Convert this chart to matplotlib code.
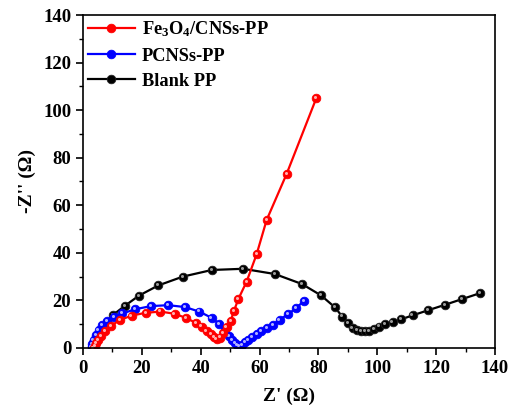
import numpy as np
import matplotlib.pyplot as plt
from matplotlib.ticker import MultipleLocator
from matplotlib.transforms import ScaledTranslation

plt.rcParams['font.family'] = ['Liberation Serif', 'DejaVu Serif']
plt.rcParams['font.weight'] = 'bold'
plt.rcParams['mathtext.fontset'] = 'custom'
plt.rcParams['mathtext.rm'] = 'Liberation Serif:bold'
plt.rcParams['mathtext.bf'] = 'Liberation Serif:bold'
plt.rcParams['mathtext.it'] = 'Liberation Serif:bold'

# Fe3O4/CNSs-PP
fe_x = [3.6, 4.0, 4.5, 5.2, 6.2, 7.5, 9.5, 12.6, 16.5, 21.3, 26.3, 31.1, 35.1, 38.4,
        40.3, 42.0, 43.4, 44.5, 45.4, 46.6, 47.7, 48.8, 50.2, 51.3, 52.8, 55.6, 59.0,
        62.4, 69.2, 79.3]
fe_y = [0.0, 0.8, 2.0, 3.3, 5.0, 7.0, 9.3, 11.8, 13.6, 14.8, 15.3, 14.4, 12.6, 10.5,
        9.0, 7.3, 5.7, 4.5, 3.9, 4.4, 6.2, 8.7, 11.5, 15.6, 20.6, 27.9, 39.4,
        53.8, 73.2, 105.1]

# PCNSs-PP
pc_x = [2.9, 3.2, 3.6, 4.3, 5.3, 6.6, 8.3, 10.5, 13.3, 17.8, 23.0, 29.0, 34.7, 39.5,
        43.7, 46.3, 48.2, 49.6, 50.7, 51.7, 52.5, 53.2, 54.0, 55.0, 56.2, 57.5, 59.0,
        60.6, 62.5, 64.5, 66.8, 69.6, 72.5, 75.1]
pc_y = [0.5, 1.8, 3.4, 5.3, 7.5, 9.5, 11.5, 13.0, 14.5, 16.3, 17.6, 18.0, 17.2, 15.3,
        12.7, 10.1, 7.4, 5.0, 3.4, 2.0, 1.1, 0.9, 1.4, 2.4, 3.5, 4.7, 5.9,
        7.0, 8.3, 9.8, 11.8, 14.2, 16.8, 19.9]

# Blank PP
bl_x = [3.0, 3.5, 4.5, 6.0, 8.0, 10.3, 14.2, 19.0, 25.6, 33.9, 43.8, 54.4, 65.2, 74.4,
        80.9, 85.6, 88.1, 90.2, 91.6, 93.0, 94.4, 95.8, 97.2, 99.0, 100.7, 102.5,
        105.2, 108.2, 112.0, 117.1, 123.1, 128.9, 134.8]
bl_y = [0.5, 2.0, 4.5, 7.5, 10.8, 14.0, 17.7, 22.0, 26.3, 30.0, 32.8, 33.3, 31.1, 26.9,
        22.1, 17.1, 13.2, 10.4, 8.5, 7.6, 7.0, 7.0, 7.3, 8.1, 9.0, 10.1,
        10.9, 12.1, 13.7, 15.8, 18.2, 20.6, 23.0]

series = [
    (bl_x, bl_y, 'black', '#000000', '#9a9a9a', 'Blank PP'),
    (pc_x, pc_y, 'blue', '#0000ff', '#b0b0ff', 'PCNSs-PP'),
    (fe_x, fe_y, 'red', '#ff0000', '#ffb0b0', r'Fe$_3$O$_4$/CNSs-PP'),
]

fig = plt.figure(figsize=(5.11, 4.17), dpi=100)
ax = fig.add_axes([0.1624, 0.1655, 0.8063, 0.7985])

shift = ScaledTranslation(-0.8 / 72, 0.8 / 72, fig.dpi_scale_trans)
handles = {}
for x, y, c, face, shine, lab in series:
    h, = ax.plot(x, y, '-o', color=c, lw=1.6, ms=6.2, mfc=face, mec='#222222' if c == 'black' else face,
                 mew=0.6, label=lab)
    ax.plot(x, y, 'o', ls='none', ms=2.2, mfc=shine, mec='none',
            transform=ax.transData + shift)
    handles[lab] = h

order = [r'Fe$_3$O$_4$/CNSs-PP', 'PCNSs-PP', 'Blank PP']
ax.legend([handles[k] for k in order], order, loc='upper left', frameon=False,
          fontsize=13.2, handlelength=2.6, handletextpad=0.35, labelspacing=0.45,
          borderaxespad=0.0, borderpad=0.25)

ax.set_xlim(0, 140)
ax.set_ylim(0, 140)
ax.xaxis.set_major_locator(MultipleLocator(20))
ax.xaxis.set_minor_locator(MultipleLocator(10))
ax.yaxis.set_major_locator(MultipleLocator(20))
ax.yaxis.set_minor_locator(MultipleLocator(10))
ax.tick_params(which='major', direction='out', length=5, width=1.2, labelsize=13.5)
ax.tick_params(which='minor', direction='out', length=3, width=1.0)
for s in ax.spines.values():
    s.set_linewidth(1.2)

ax.set_xlabel("Z' (Ω)", fontsize=14, fontweight='bold', labelpad=8)
ax.set_ylabel("-Z'' (Ω)", fontsize=14, fontweight='bold', labelpad=5)

fig.savefig('out.png', dpi=100)
